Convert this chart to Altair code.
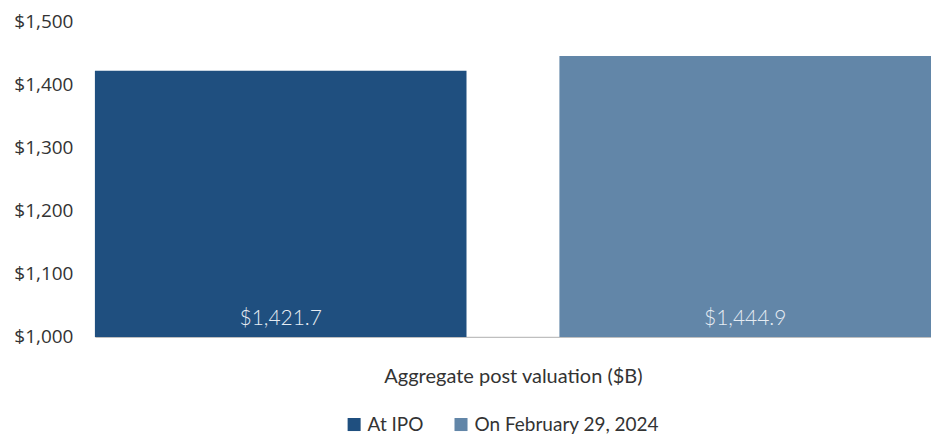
import altair as alt
import pandas as pd

series = ["At IPO", "On February 29, 2024"]
values = [1421.7, 1444.9]
labels = ["$1,421.7", "$1,444.9"]
colors = ["#1F4F7F", "#6286A8"]

df = pd.DataFrame({"series": series, "value": values, "label": labels})

y_scale = alt.Scale(domain=[1000, 1500], nice=False, zero=False)
x_enc = alt.X(
    "series:N",
    sort=series,
    scale=alt.Scale(paddingInner=0.2, paddingOuter=0),
    axis=alt.Axis(
        title="Aggregate post valuation ($B)",
        labels=False,
        ticks=False,
        domain=True,
        domainColor="#BFBFBF",
        domainWidth=1.5,
        titleFont="Lato",
        titleFontSize=20,
        titleFontWeight="normal",
        titleColor="#333333",
        titlePadding=30,
    ),
)

bars = alt.Chart(df).mark_bar().encode(
    x=x_enc,
    y=alt.Y(
        "value:Q",
        scale=y_scale,
        axis=alt.Axis(
            title=None,
            values=[1000, 1100, 1200, 1300, 1400, 1500],
            format="$,.0f",
            grid=False,
            domain=False,
            ticks=False,
            labelFont="Open Sans",
            labelFontSize=19,
            labelColor="#333333",
            labelPadding=22,
        ),
    ),
    y2=alt.datum(1000),
    color=alt.Color(
        "series:N",
        sort=series,
        scale=alt.Scale(domain=series, range=colors),
        legend=alt.Legend(
            title=None,
            orient="none",
            legendX=250,
            legendY=394,
            direction="horizontal",
            symbolType="square",
            symbolSize=170,
            symbolStrokeWidth=0,
            labelFont="Lato",
            labelFontSize=19,
            labelColor="#333333",
            labelLimit=400,
            columnPadding=28,
        ),
    ),
)

text = alt.Chart(df).mark_text(
    baseline="bottom",
    dy=-8,
    font="Lato",
    fontSize=21,
    fontWeight=300,
    color="#E6ECF3",
).encode(
    x=alt.X("series:N", sort=series),
    y=alt.datum(1000),
    text="label:N",
)

chart = (
    alt.layer(bars, text)
    .properties(
        width=837,
        height=316,
        padding={"left": 5, "top": 4, "right": 0, "bottom": 0},
    )
    .configure_view(stroke=None)
)

chart.save("out.html", embed_options={"renderer": "svg", "actions": False})
